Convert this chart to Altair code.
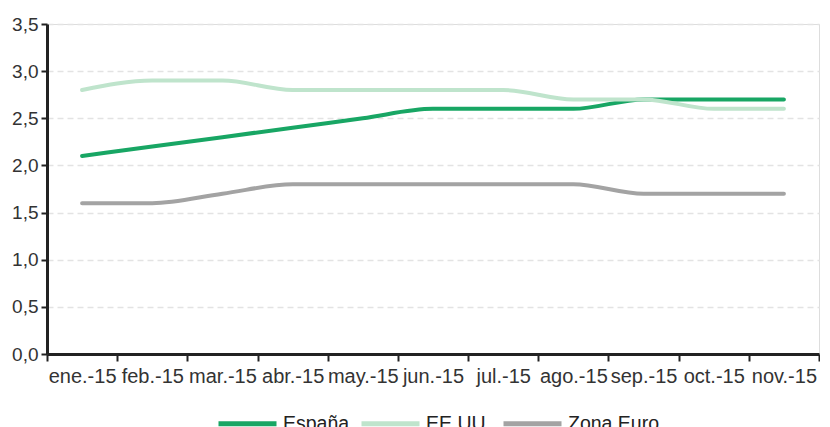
import altair as alt
import pandas as pd

months = ["ene.-15", "feb.-15", "mar.-15", "abr.-15", "may.-15", "jun.-15",
          "jul.-15", "ago.-15", "sep.-15", "oct.-15", "nov.-15"]
espana = [2.1, 2.2, 2.3, 2.4, 2.5, 2.6, 2.6, 2.6, 2.7, 2.7, 2.7]
eeuu = [2.8, 2.9, 2.9, 2.8, 2.8, 2.8, 2.8, 2.7, 2.7, 2.6, 2.6]
zona_euro = [1.6, 1.6, 1.7, 1.8, 1.8, 1.8, 1.8, 1.8, 1.7, 1.7, 1.7]
series = ["España", "EE.UU.", "Zona Euro"]
colors = ["#18a664", "#bfe4cc", "#a3a3a3"]

rows = []
for name, vals in zip(series, [espana, eeuu, zona_euro]):
    for m, v in zip(months, vals):
        rows.append({"mes": m, "valor": v, "serie": name})
df = pd.DataFrame(rows)

chart = alt.Chart(df).mark_line(
    strokeWidth=4, interpolate="monotone", strokeCap="round"
).encode(
    x=alt.X("mes:N", sort=months, title=None,
            scale=alt.Scale(paddingInner=0, paddingOuter=0),
            axis=alt.Axis(labelAngle=0, tickBand="extent", domainColor="#222",
                          domainWidth=3, tickColor="#222", tickWidth=2, tickSize=7,
                          labelFontSize=20, labelColor="#333", labelPadding=5,
                          labelOverlap=False, grid=False)),
    y=alt.Y("valor:Q", title=None,
            scale=alt.Scale(domain=[0, 3.5], nice=False),
            axis=alt.Axis(values=[0, 0.5, 1, 1.5, 2, 2.5, 3, 3.5],
                          labelExpr="replace(format(datum.value, '.1f'), '.', ',')",
                          domainColor="#222", domainWidth=3, tickColor="#222",
                          tickWidth=2, tickSize=6, labelFontSize=19, labelColor="#333",
                          labelPadding=3, gridColor="#e3e3e3", gridDash=[6, 4],
                          gridWidth=1.5)),
    color=alt.Color("serie:N", sort=series,
                    scale=alt.Scale(domain=series, range=colors),
                    legend=alt.Legend(title=None, orient="none", direction="horizontal",
                                      legendX=169, legendY=368, padding=0,
                                      symbolType="stroke", symbolSize=3364,
                                      symbolStrokeWidth=5, labelFontSize=19.5,
                                      labelColor="#222", columnPadding=1,
                                      labelOffset=4)),
).properties(
    width=772, height=330,
    padding={"left": 3, "top": 7, "right": 0, "bottom": 0}
).configure_view(
    stroke=None
).configure(
    font="Liberation Sans"
)

chart.save("out.html", embed_options={"renderer": "svg", "actions": False})
